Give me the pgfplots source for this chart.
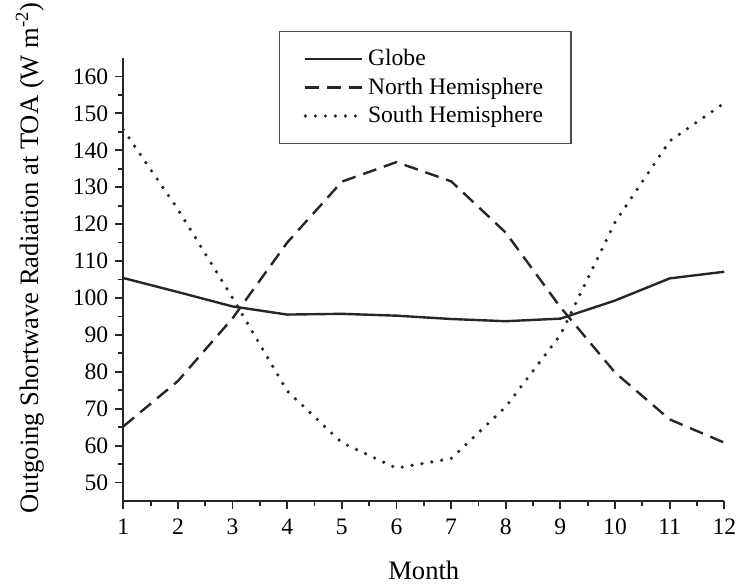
\documentclass[border=0pt]{standalone}
\usepackage{fontspec}
\setmainfont{Liberation Serif}
\usepackage{pgfplots}
\pgfplotsset{compat=1.18}

\pgfplotstableread{
month globe north south
1  105.4 65.2 145.6
2  101.6 77.5 124.0
3  97.7  94.5 100.0
4  95.5  115.0 74.8
5  95.7  131.5 60.8
6  95.2  136.8 53.9
7  94.3  131.6 56.5
8  93.7  117.7 70.5
9  94.4  97.5  90.0
10 99.3  79.8  120.5
11 105.3 67.1  142.5
12 107.1 60.8  152.8
}\swr

\begin{document}
\begin{tikzpicture}
% page frame matching the reference's margins
\useasboundingbox (-61.65pt,-41pt) rectangle (307.35pt,250.5pt);
\begin{axis}[
    scale only axis,
    width=300.5pt, height=221.5pt,
    xmin=1, xmax=12,
    ymin=45, ymax=165,
    axis x line=bottom, axis y line=left,
    axis line style={-, line width=0.9pt, black!85},
    xtick={1,...,12},
    ytick={50,60,...,160},
    minor x tick num=1, minor y tick num=1,
    tick align=outside,
    major tick length=4pt, minor tick length=2.5pt,
    tick style={line width=0.9pt, black!85},
    tick label style={font=\fontsize{11.8}{13}\selectfont},
    xticklabel style={yshift=-1.5pt},
    /pgf/number format/assume math mode=true,
    xlabel={Month},
    ylabel={Outgoing Shortwave Radiation at TOA (W m\textsuperscript{-2})},
    label style={font=\fontsize{13.3}{15}\selectfont},
    xlabel style={at={(axis description cs:0.5,-0.156)}, anchor=center},
    ylabel style={at={(axis description cs:-0.155,0.549)}, anchor=center},
    legend style={at={(axis description cs:0.259,1.061)}, anchor=north west,
        draw=black!70, line width=0.6pt, font=\fontsize{11.8}{13}\selectfont,
        row sep=0.5pt, inner xsep=12pt, inner ysep=7pt},
    legend cell align=left,
    legend image code/.code={\draw[#1] (0cm,0cm) -- (1cm,0cm);},
]
\addplot[black!85, line width=1.2pt] table[x=month, y=globe] {\swr};
\addlegendentry{Globe}
\addplot[black!85, line width=1.2pt, dash pattern=on 7pt off 4pt] table[x=month, y=north] {\swr};
\addlegendentry{North Hemisphere}
\addplot[black!85, line width=1.8pt, line cap=round, dash pattern=on 0pt off 5pt] table[x=month, y=south] {\swr};
\addlegendentry{South Hemisphere}
\end{axis}
\end{tikzpicture}
\end{document}
